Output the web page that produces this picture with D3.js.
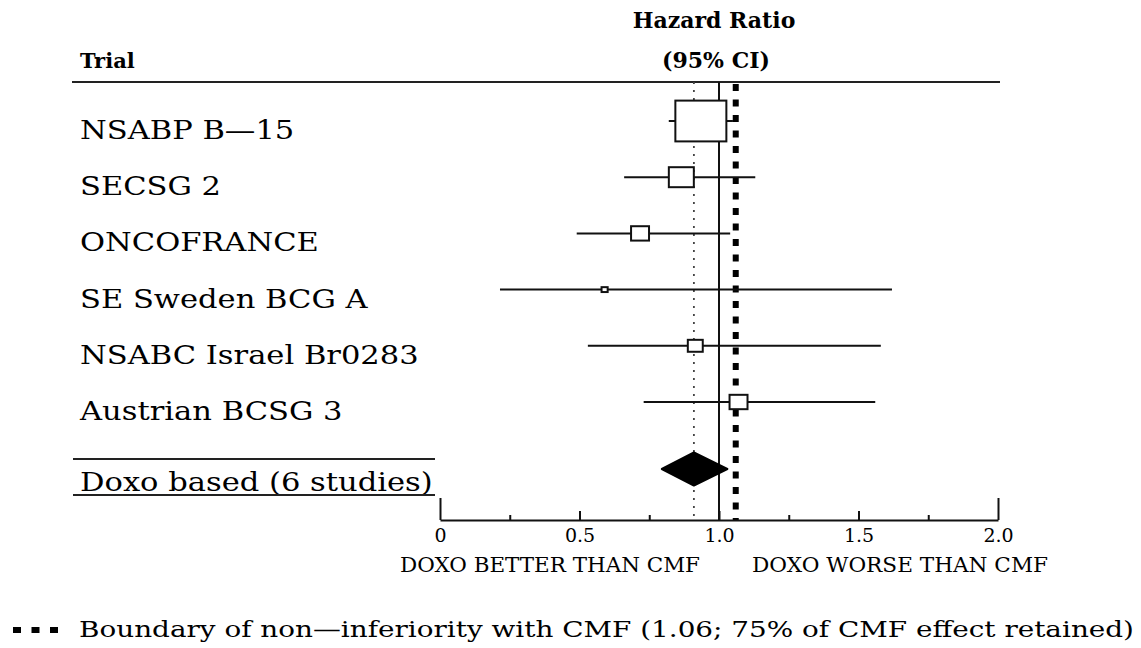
<!DOCTYPE html>
<html>
<head>
<meta charset="utf-8">
<script src="https://cdn.jsdelivr.net/npm/d3@7"></script>
<style>
  body { margin: 0; background: #fff; }
  text { font-family: "DejaVu Serif", serif; fill: #000; }
</style>
</head>
<body>
<div id="forest"></div>
<script>
// trial data
var trials = ["NSABP B\u201415", "SECSG 2", "ONCOFRANCE", "SE Sweden BCG A", "NSABC Israel Br0283", "Austrian BCSG 3"];
var hazard = [0.935, 0.865, 0.717, 0.59, 0.915, 1.07];
var lowerCI = [0.82, 0.66, 0.49, 0.215, 0.53, 0.73];
var upperCI = [1.05, 1.13, 1.04, 1.62, 1.58, 1.56];
var weights = [62.9, 15.1, 7.8, 0.9, 5.4, 7.8];

// pooled estimate
var pooledLabel = "Doxo based (6 studies)";
var pooledHR = 0.91;
var pooledLower = 0.795;
var pooledUpper = 1.03;

// non-inferiority boundary
var boundary = 1.06;

// axis ticks
var majorTicks = [0, 0.5, 1, 1.5, 2];
var majorLabels = ["0", "0.5", "1.0", "1.5", "2.0"];
var minorTicks = [0.25, 0.75, 1.25, 1.75];

var width = 1141, height = 648;

var svg = d3.select("#forest")
  .append("svg")
    .attr("width", width)
    .attr("height", height);

var x = d3.scaleLinear()
    .domain([0, 2])
    .range([440, 998]);

var y = d3.scalePoint()
    .domain(trials)
    .range([121, 402]);

var pooledY = 469;
var axisY = 520;
var topY = 82;

var box = d3.scaleSqrt()
    .domain([0, d3.max(weights)])
    .range([0, 51]);

var rows = trials.map(function(t, i) {
  return {trial: t, hr: hazard[i], lo: lowerCI[i], hi: upperCI[i], w: weights[i]};
});

// headers
svg.append("text")
  .attr("x", 80).attr("y", 68)
  .style("font-weight", "bold").style("font-size", "21px")
  .text("Trial");

svg.append("text")
  .attr("x", 714).attr("y", 28)
  .attr("text-anchor", "middle")
  .style("font-weight", "bold").style("font-size", "22px")
  .text("Hazard Ratio");

svg.append("text")
  .attr("x", 716).attr("y", 68)
  .attr("text-anchor", "middle")
  .style("font-weight", "bold").style("font-size", "22px")
  .text("(95% CI)");

svg.append("line")
  .attr("x1", 72).attr("x2", 1000)
  .attr("y1", topY).attr("y2", topY)
  .attr("stroke", "#222").attr("stroke-width", 2);

// trial labels (stretched a bit, the original font is wide)
svg.selectAll(".lab")
  .data(rows)
  .enter()
  .append("text")
    .attr("class", "lab")
    .attr("transform", function(d) { return "translate(80," + (y(d.trial) + 18) + ") scale(1.175,1)"; })
    .style("font-size", "26px")
    .text(function(d) { return d.trial; });

svg.append("text")
  .attr("transform", "translate(80," + (pooledY + 22) + ") scale(1.175,1)")
  .style("font-size", "26px")
  .text(pooledLabel);

svg.append("line")
  .attr("x1", 73).attr("x2", 435)
  .attr("y1", 459).attr("y2", 459)
  .attr("stroke", "#222").attr("stroke-width", 2);

svg.append("line")
  .attr("x1", 73).attr("x2", 435)
  .attr("y1", 495).attr("y2", 495)
  .attr("stroke", "#222").attr("stroke-width", 2);

// reference lines
svg.append("line")
  .attr("x1", x(pooledHR)).attr("x2", x(pooledHR))
  .attr("y1", topY).attr("y2", axisY)
  .attr("stroke", "#444").attr("stroke-width", 1.8)
  .attr("stroke-dasharray", "2,6");

svg.append("line")
  .attr("x1", x(1)).attr("x2", x(1))
  .attr("y1", topY).attr("y2", axisY)
  .attr("stroke", "#111").attr("stroke-width", 2);

svg.append("line")
  .attr("x1", x(boundary)).attr("x2", x(boundary))
  .attr("y1", topY + 2).attr("y2", axisY)
  .attr("stroke", "#000").attr("stroke-width", 6)
  .attr("stroke-dasharray", "7,8.5");

// whiskers
svg.selectAll(".ci")
  .data(rows)
  .enter()
  .append("line")
    .attr("x1", function(d) { return x(d.lo); })
    .attr("x2", function(d) { return x(d.hi); })
    .attr("y1", function(d) { return y(d.trial); })
    .attr("y2", function(d) { return y(d.trial); })
    .attr("stroke", "#111").attr("stroke-width", 2);

// boxes
svg.selectAll(".box")
  .data(rows)
  .enter()
  .append("rect")
    .attr("x", function(d) { return x(d.hr) - box(d.w) / 2; })
    .attr("y", function(d) { return y(d.trial) - box(d.w) * 0.4; })
    .attr("width", function(d) { return box(d.w); })
    .attr("height", function(d) { return box(d.w) * 0.8; })
    .attr("fill", "#fff")
    .attr("stroke", "#111").attr("stroke-width", 2);

// pooled diamond
svg.append("path")
  .attr("d", "M" + x(pooledLower) + "," + pooledY +
             "L" + x(pooledHR) + "," + (pooledY - 16.5) +
             "L" + x(pooledUpper) + "," + pooledY +
             "L" + x(pooledHR) + "," + (pooledY + 16.5) + "Z")
  .attr("fill", "#000")
  .attr("stroke", "#000").attr("stroke-width", 2).attr("stroke-linejoin", "round");

// Add X axis, ticks pointing up
var ax = svg.append("g")
  .attr("transform", "translate(0," + axisY + ")")
  .call(d3.axisBottom(x)
    .tickValues(majorTicks)
    .tickSizeInner(-9)
    .tickSizeOuter(0)
    .tickPadding(9)
    .tickFormat(function(d, i) { return majorLabels[i]; }));

ax.select(".domain").attr("stroke", "#111").attr("stroke-width", 2);
ax.selectAll(".tick line").attr("stroke", "#111").attr("stroke-width", 2)
  .attr("y2", function(d) { return (d == 0 || d == 2) ? -22 : -9; });
ax.selectAll(".tick text")
  .style("font-family", "DejaVu Serif").style("font-size", "19px").attr("fill", "#000");

var axm = svg.append("g")
  .attr("transform", "translate(0," + axisY + ")")
  .call(d3.axisBottom(x)
    .tickValues(minorTicks)
    .tickSizeInner(-5)
    .tickSizeOuter(0)
    .tickFormat(""));
axm.select(".domain").remove();
axm.selectAll(".tick line").attr("stroke", "#111").attr("stroke-width", 2);

svg.append("text")
  .attr("x", 400).attr("y", 572)
  .attr("textLength", 300).attr("lengthAdjust", "spacingAndGlyphs")
  .style("font-size", "21px")
  .text("DOXO BETTER THAN CMF");

svg.append("text")
  .attr("x", 752).attr("y", 572)
  .attr("textLength", 296).attr("lengthAdjust", "spacingAndGlyphs")
  .style("font-size", "21px")
  .text("DOXO WORSE THAN CMF");

// legend
svg.append("line")
  .attr("x1", 13).attr("x2", 58)
  .attr("y1", 630).attr("y2", 630)
  .attr("stroke", "#000").attr("stroke-width", 6)
  .attr("stroke-dasharray", "8,10.5");

svg.append("text")
  .attr("x", 79).attr("y", 637)
  .attr("textLength", 1055).attr("lengthAdjust", "spacingAndGlyphs")
  .style("font-size", "23px")
  .text("Boundary of non\u2014inferiority with CMF (1.06; 75% of CMF effect retained)");
</script>
</body>
</html>
